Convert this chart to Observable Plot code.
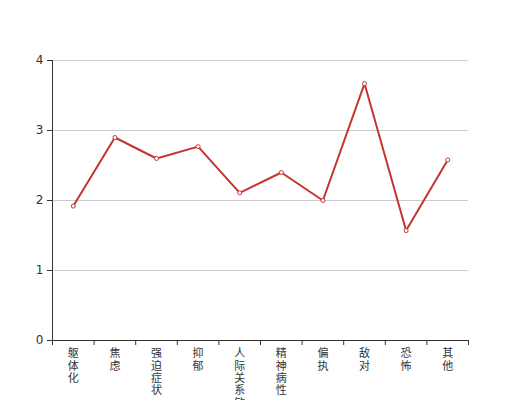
<!DOCTYPE html>
<html>
<head>
<meta charset="utf-8">
<script src="https://cdn.jsdelivr.net/npm/d3@7"></script>
<script src="https://cdn.jsdelivr.net/npm/@observablehq/plot@0.6"></script>
<style>
  html, body { margin: 0; padding: 0; background: #fff; }
</style>
</head>
<body>
<div id="chart"></div>
<script>
const categories = ["躯体化", "焦虑", "强迫症状", "抑郁", "人际关系敏感", "精神病性", "偏执", "敌对", "恐怖", "其他"];
const values = [1.92, 2.90, 2.60, 2.77, 2.11, 2.40, 2.00, 3.67, 1.57, 2.58];
const yTicks = [0, 1, 2, 3, 4];

const data = categories.map((c, i) => ({i, c, v: values[i]}));
const boundaries = d3.range(categories.length + 1).map(k => k - 0.5);
const red = "#c23531";

const chart = Plot.plot({
  width: 520,
  height: 400,
  marginLeft: 52,
  marginRight: 52,
  marginTop: 60,
  marginBottom: 60,
  x: {domain: [-0.5, categories.length - 0.5], axis: null},
  y: {domain: [0, 4], axis: null},
  style: {fontFamily: "'DejaVu Sans', 'Noto Sans CJK SC', sans-serif", fontSize: "12px", color: "#333", background: "#fff"},
  marks: [
    Plot.ruleY(yTicks.filter(t => t > 0), {stroke: "#ccc", strokeWidth: 1}),
    Plot.axisY({ticks: yTicks, tickSize: 5, tickPadding: 4, tickFormat: d => String(d), label: null, stroke: "#333", fill: "#333", strokeOpacity: 1}),
    Plot.ruleX([-0.5], {stroke: "#333", strokeWidth: 1}),
    Plot.axisX({ticks: boundaries, tickSize: 5, tickFormat: () => "", label: null, stroke: "#333", strokeOpacity: 1}),
    Plot.ruleY([0], {stroke: "#333", strokeWidth: 1}),
    Plot.text(data, {
      x: "i",
      frameAnchor: "bottom",
      dy: 8,
      lineAnchor: "top",
      lineHeight: 1.12,
      text: d => [...d.c].join("\n"),
      fill: "#333",
      fontSize: 11
    }),
    Plot.line(data, {x: "i", y: "v", stroke: red, strokeWidth: 2}),
    Plot.dot(data, {x: "i", y: "v", r: 2, fill: "#fff", stroke: red, strokeWidth: 1})
  ]
});
document.getElementById("chart").appendChild(chart);
</script>
</body>
</html>
